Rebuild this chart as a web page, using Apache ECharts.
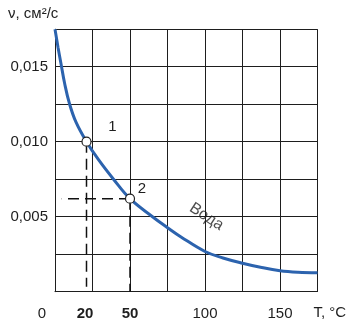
<!DOCTYPE html>
<html>
<head>
<meta charset="utf-8">
<script src="https://cdn.jsdelivr.net/npm/echarts@6/dist/echarts.min.js"></script>
<style>html,body{margin:0;padding:0;background:#fff}#c{width:356px;height:328px}</style>
</head>
<body>
<div id="c"></div>
<script>
// Water kinematic viscosity curve (T in °C, ν in cm²/s)
var temps = [0, 2, 4, 6.4, 9.6, 14, 21, 29, 39, 50, 65, 76, 84, 100, 112, 125, 137, 150, 162, 175];
var nu = [0.0175, 0.0163, 0.0152, 0.0139, 0.01255, 0.0113, 0.0100, 0.0088, 0.0075, 0.0062, 0.0050, 0.0042, 0.00365, 0.00268, 0.00225, 0.0019, 0.00163, 0.0014, 0.0013, 0.00127];
// marked points
var pointT = [21, 50];
var pointNu = [0.0100, 0.0062];
var pointNames = ['1', '2'];
// dashed guide segments [[T1, nu1], [T2, nu2]]
var guides = [
  [[21, 0.0100], [21, 0.00033]],
  [[50, 0.0062], [50, 0.0]],
  [[50, 0.0062], [4.5, 0.0062]]
];
var xTickLabels = [0, 20, 50, 100, 150];
var boldX = [20, 50];
var yTickLabels = [0.005, 0.010, 0.015];
var curveName = 'Вода';
var curveLabelAt = [101, 0.0050];

var FONT = 'Liberation Sans, Arial, sans-serif';
var INK = '#1e1e1e';

var chart = echarts.init(document.getElementById('c'), null, {renderer: 'canvas'});

var curveData = temps.map(function (t, i) { return [t, nu[i]]; });
var pointData = pointT.map(function (t, i) { return {value: [t, pointNu[i]], name: pointNames[i]}; });

var series = [];
guides.forEach(function (g) {
  series.push({
    type: 'line', data: g, symbol: 'none', silent: true, z: 3,
    lineStyle: {color: '#111', width: 1.5, type: [11, 6]}
  });
});
series.push({
  type: 'line', data: curveData, symbol: 'none', smooth: 0.4, z: 4,
  lineStyle: {color: '#2c63ae', width: 3}
});
series.push({
  type: 'scatter', data: pointData, symbol: 'circle', symbolSize: 9, z: 5,
  itemStyle: {color: '#fff', borderColor: '#222', borderWidth: 1.2, opacity: 1},
  label: {
    show: true, formatter: '{b}', position: 'inside', color: INK,
    fontSize: 15, fontFamily: FONT
  },
  labelLayout: function (p) {
    var off = p.dataIndex === 0 ? [26, -15] : [12, -10];
    return {dx: off[0], dy: off[1]};
  }
});
series.push({
  type: 'scatter', data: [{value: curveLabelAt, name: curveName}], symbolSize: 2, z: 5,
  itemStyle: {color: 'rgba(0,0,0,0)'},
  label: {
    show: true, formatter: '{b}', position: 'inside', rotate: -33, color: INK,
    fontSize: 16, fontFamily: FONT
  }
});

chart.setOption({
  animation: false,
  backgroundColor: '#fff',
  grid: {left: 55, right: 38.5, top: 29.2, bottom: 36.3, containLabel: false, outerBoundsMode: 'none'},
  graphic: [{
    type: 'text', left: 8, top: 6,
    style: {text: 'ν, см²/с', font: '15px ' + FONT, fill: INK}
  }],
  xAxis: [{
    type: 'value', min: 0, max: 175, interval: 25,
    axisLine: {show: true, lineStyle: {color: INK, width: 1}},
    axisTick: {show: false},
    axisLabel: {show: false},
    splitLine: {show: true, lineStyle: {color: INK, width: 1}}
  }, {
    type: 'value', min: 0, max: 175, position: 'bottom',
    axisLine: {show: false}, axisTick: {show: false}, splitLine: {show: false},
    name: 'T, °C', nameLocation: 'end', nameGap: -4,
    nameTextStyle: {color: INK, fontSize: 15, fontFamily: FONT, align: 'left', verticalAlign: 'top', padding: [14, 0, 0, 0]},
    axisLabel: {
      show: true, customValues: xTickLabels, margin: 15, color: INK, fontSize: 15, fontFamily: FONT,
      formatter: function (v) {
        if (v === 0) return '{z|0}';
        if (boldX.indexOf(v) >= 0) return '{b|' + v + '}';
        return String(v);
      },
      rich: {
        z: {padding: [0, 26, 0, 0], fontSize: 15, fontFamily: FONT, color: INK},
        b: {fontWeight: 'bold', fontSize: 15, fontFamily: FONT, color: INK}
      }
    }
  }],
  yAxis: {
    type: 'value', min: 0, max: 0.0175, interval: 0.0025,
    axisLine: {show: true, lineStyle: {color: INK, width: 1}},
    axisTick: {show: false},
    splitLine: {show: true, lineStyle: {color: INK, width: 1}},
    axisLabel: {
      show: true, customValues: yTickLabels, margin: 7, color: INK, fontSize: 15, fontFamily: FONT,
      formatter: function (v) { return v.toFixed(3).replace('.', ','); }
    }
  },
  series: series
});
</script>
</body>
</html>
